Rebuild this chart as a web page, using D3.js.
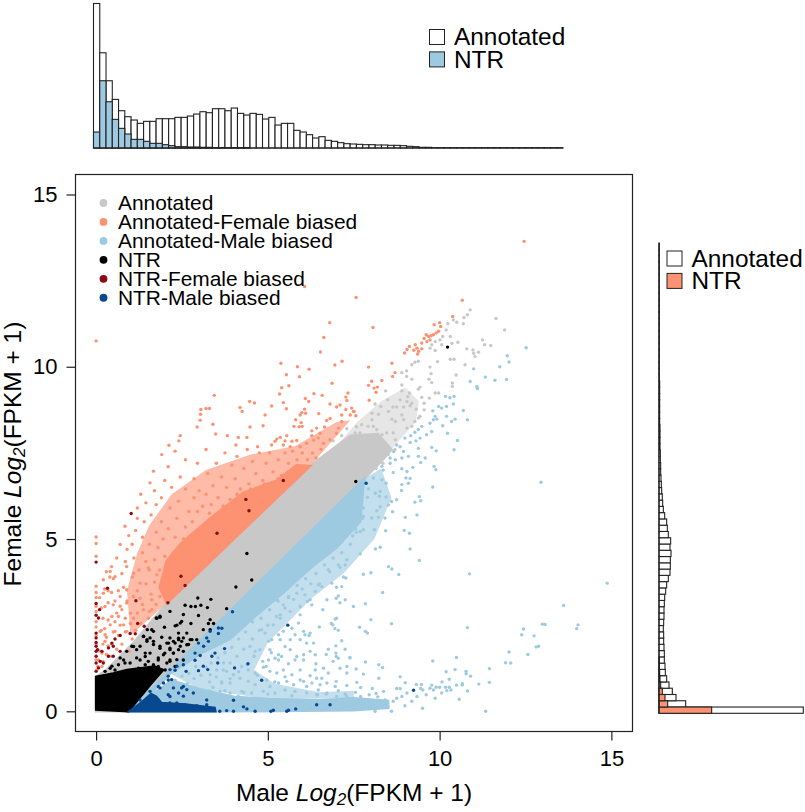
<!DOCTYPE html>
<html><head><meta charset="utf-8">
<script src="https://cdn.jsdelivr.net/npm/d3@7"></script>
<style>html,body{margin:0;background:#fff}svg{display:block}text{font-family:"Liberation Sans",Arial,sans-serif;fill:#000}</style>
</head><body><div id="chart"></div>
<script>
// Histogram heights (arbitrary frequency units); bins share one width over 0-13.6
const topAnnotated=[434,286,202,146,112,94,84,74,80,80,88,88,88,92,92,96,102,109,106,118,118,112,120,104,99,104,101,87,92,69,74,74,53,48,40,30,34,23,20,16,13,12,11,10,10,9,9,8,8,7,5,4,2,2,1,1,1,1,1,1,1,1,1,1,1,1,1,1,1,1,1,1,1,1,1];
const topNTR=[48,202,139,86,59,42,26,26,20,14,14,10,7,4,4,3,3,2,2,1,1,1,1,1,1];
const rightAnnotated=[433,80,51,40,30,23,19,18,16,16,15,14,14,13,14,15,15,16,17,20,23,28,33,34,34,36,33,35,28,25,23,17,13,11,10,8,7,6,5,5,4,4,3,3,3,3,2,2,2,2,2,2,2,1,1,1,1,1,1,1,1,1,1,1,1,1,1,1,1,1,1,1,1,1,1];
const rightNTR=[158,26,18,10,5,3,2,1,1];
const histTop=13.6;
const xTicks=[0,5,10,15], yTicks=[0,5,10,15];
const scatterLegend=["Annotated","Annotated-Female biased","Annotated-Male biased","NTR","NTR-Female biased","NTR-Male biased"];
const histLegend=["Annotated","NTR"];

// Outlines of the areas where the points overlap into solid colour (Male, Female)
const grayCore=[[0,0],[0.94,0],[7.7,6.4],[7.85,6.8],[8.3,7.25],[8.6,7.6],[8.2,8.05],[7.4,8.0],[7,7.7],[6.2,7.1],[2.06,3.14],[1.1,2.0],[0.3,1.2],[0,1]];
const pinkCore=[[2.06,3.14],[1.85,3.6],[2.05,4.35],[2.45,4.85],[3.32,5.6],[4.29,6.35],[5.26,6.7],[5.84,7.15],[6.23,7.12]];
const blueCore=[[0.94,0],[7.8,6.75],[7.69,5.5],[7,4.75],[6.23,4.15],[5.45,3.45],[4.68,2.8],[3.9,2.1],[3.12,1.72],[2.15,1.1],[1.6,0.5]];
const blueStrip=[[1,0],[4,0],[7.5,0.03],[8.5,0.1],[8.5,0.3],[7.5,0.38],[6.5,0.32],[5,0.36],[4,0.42],[3,0.65],[2.2,0.9]];
const blackCore=[[0,0.05],[0,1],[0.5,1.1],[0.9,1.2],[1.3,1.25],[1.7,1.3],[1.95,1.2],[1.6,0.8],[0.94,0]];
const navyCore=[[0.98,0],[1.35,0.28],[1.6,0.5],[1.75,0.42],[1.9,0.24],[2.6,0.2],[3.45,0.1],[3.47,0]];

// Outlines of the areas of thinner, speckled overlap
const pinkHalo=[[1,2.2],[0.9,3.5],[1.2,4.6],[1.55,5.4],[2.2,6.3],[3.2,7],[4.5,7.45],[5.8,7.7],[7,8.4],[7.4,8.45],[6.23,7.12],[2.06,3.14]];
const blueHalo=[[2.15,1.1],[3.12,1.72],[3.9,2.1],[4.68,2.8],[5.45,3.45],[6.23,4.15],[7,4.75],[7.69,5.5],[7.8,6.75],[8.3,7.05],[8.6,6.2],[8.1,5],[7.2,4],[6.3,3.3],[5.5,2.5],[5,2],[4.6,1.2],[5.2,0.8],[6.5,0.55],[7.5,0.6],[7.5,0.38],[5,0.36],[3,0.65]];
const grayHalo=[[7,7.7],[7.6,8.4],[8.3,9],[9,9.4],[9.4,9],[9.3,8.4],[8.6,7.6],[8.2,8.05]];

// Individually visible points (Male, Female)
const grayPts=[[10.89,11.65],[10.81,11.51],[10.71,11.43],[10.69,11.25],[10.4,11.36],[10.5,11.29],[10.24,11.25],[10.19,11.07],[10.09,10.88],[10.01,10.78],[9.87,10.73],[9.77,10.64],[9.72,10.54],[9.87,10.47],[10.06,10.64],[10.31,10.88],[10.36,10.68],[10.53,10.71],[11.64,11.4],[11.89,11.07],[11.25,10.78],[11.31,10.64],[11.49,10.62],[10.79,10.52],[10.97,10.49],[11.13,10.42],[10.99,10.39],[11.03,10.3],[10.31,10.22],[10.42,10.22],[9.94,10.15],[10.74,10.06],[9.38,10.16],[9.28,10.13],[9.19,10.06],[9.72,9.99],[9.04,9.88],[8.9,9.83],[9.75,9.8],[10.48,9.76],[9.04,9.72],[9.19,9.64],[9.69,9.64],[9.77,9.54],[8.9,9.47],[10.37,9.53],[10.37,9.43],[9.43,9.41],[9.38,9.35],[8.43,9.3],[9.12,9.24],[8.9,9.3],[9.87,9.24],[9.97,9.24],[9.07,9.13],[8.85,9.04],[9.48,9.11],[9.7,9.09],[8.49,9.04],[9.05,8.99],[9.19,8.94],[9.55,8.94],[8.12,8.92],[8.29,8.85],[8.64,8.83],[8.75,8.83],[8.95,8.83],[9.32,8.77],[9.55,8.75],[9.14,8.87],[8.03,8.65],[8.22,8.62],[8.51,8.7],[8.9,8.6],[9.43,8.56],[8.03,8.46],[8.61,8.48],[8.71,8.41],[8.95,8.46],[9.38,8.51],[9.28,8.41],[7.73,8.32],[7.92,8.27],[8.07,8.27],[9.05,8.22],[9.19,8.27],[8.17,8.18],[8.46,8.08],[8.65,8.08],[7.54,8.08],[7.68,8.08],[7.88,7.98],[8.12,7.98],[8.32,8.03],[8.71,7.88],[7.73,7.88],[7.98,7.8],[8.41,7.8],[7.83,7.68],[8.51,7.68],[7.49,7.93],[7.58,8.26],[7.3,8.2],[6.9,7.85],[7.15,8.0],[8.7,7.6],[8.5,7.45],[8.35,7.2],[8.15,7.05]];
const pinkPts=[[6.07,12.33],[7.57,12.01],[0,10.75],[6.8,11.28],[6.63,10.85],[6.53,10.43],[5.38,10.1],[5.86,10],[6.2,9.93],[6.95,10.05],[7.16,10.16],[5.54,9.77],[5.92,9.71],[6.87,9.52],[5.4,9.39],[5.61,9.45],[5.34,9.21],[3.44,9.17],[6.34,9.22],[6.58,9.17],[7.33,9.24],[7.27,9.12],[7.3,9.02],[6.09,9.08],[6.19,8.99],[5.45,8.96],[4.47,8.99],[4.61,8.95],[5.11,8.86],[5.54,8.78],[4.19,8.82],[4.25,8.7],[3.05,8.76],[3.2,8.79],[3.3,8.79],[3.04,8.62],[3.03,8.45],[2.94,8.25],[3.4,8.33],[3.48,8.05],[4.92,8.6],[4.48,8.25],[4.86,8.29],[3.82,8],[4.14,7.95],[4.39,7.95],[2.45,8],[2.41,7.85],[2.12,7.72],[4.07,7.73],[4.7,7.68],[5.94,8.6],[5.99,8.67],[6.07,8.77],[6.1,8.65],[6.48,8.64],[6.81,8.92],[7,8.83],[7.1,8.89],[7.27,8.76],[7.44,8.8],[7.49,8.7],[7.4,8.6],[7.56,8.58],[7.15,8.41],[7.15,8.6],[6.81,8.5],[6.71,8.44],[5.81,8.46],[5.76,8.27],[5.97,8.38],[5.91,8.26],[6,8.27],[6.42,8.22],[6.28,8.14],[6.52,8.07],[6.65,8.25],[7.06,8.22],[7,8.07],[5.26,7.9],[5.36,7.95],[5.55,8],[5.5,7.85],[5.11,7.73],[5.21,7.84],[5.7,7.84],[5.84,7.86],[5.94,7.68],[6.13,7.78],[6.28,8],[6.33,7.87],[6.47,7.93],[6.62,7.78],[6.81,7.88],[5.45,7.73],[5.65,7.68],[12.46,13.64],[10.66,11.93],[8.06,11.14],[10.38,11.46],[8.61,10.1],[7.93,9.99],[8.7,9.83],[8.63,9.72],[8.32,9.6],[8.02,9.58],[7.93,9.46],[8.19,9.41],[8.09,9.38],[8.15,9.26],[7.95,9.03],[7.51,8.7],[8.98,10.4],[9.05,10.5],[9.12,10.59],[9.29,10.64],[9.34,10.54],[9.39,10.45],[9.36,10.37],[9.48,10.69],[9.48,10.52],[9.61,10.93],[9.68,10.88],[9.63,10.73],[9.72,10.78],[9.82,10.93],[9.9,10.98],[9.97,11.03],[9.84,11.22],[10,11.28],[10.03,11.17],[9.55,10.82],[9.75,10.9],[9.25,10.48],
[0,5.06],[0,4.87],[0,4.5],[0,3.63],[0,3.45],[0,3.3],[0,3.05],[0,2.9],[0,2.6],[0,2.45],[0,2.2],[0,1.95],[0,1.5],[0.05,1.3],[0.1,3.3],[0.15,3],[0.2,2.7],[0.25,3.55],[0.3,4.05],[0.35,3.5],[0.4,3.9],[0.45,4.2],[0.5,3.85],[0.45,3.45],[0.55,3.2],[0.35,3.15],[0.25,2.4],[0.3,2.15],[0.2,1.95],[0.35,1.9],[0.3,1.65],[0.45,1.95],[0.5,2.3],[0.55,2.6],[0.6,2.85],[0.7,3.05],[0.65,3.5],[0.8,3.6],[0.75,4],[0.85,4.35],[0.9,4.7],[0.6,4.45],[0.7,4.84],[0.84,5.37],[0.95,5.1],[1.05,4.85],[1.15,5.25],[1.2,5.6],[1.1,4.45],[1.25,4.1],[1.35,4.6],[1.05,3.9],[0.9,3.2],[1,2.85],[0.85,2.7],[0.7,2.5],[0.65,2.2],[0.85,2.3],[1,2.55],[1.2,2.85],[1.35,3.1],[1.2,3.5],[1.45,3.7],[1.6,3.4],[1.75,3.1],[1.55,2.9],[1.7,3.75],[1.55,4.1],[1.45,4.35],[1.7,4.4],[1.85,4.1],[1.95,3.7],[1.55,4.85],[1.35,5.05],[1.4,5.5],[1.2,5.9],[1.3,6.3],[1.45,6.05],[1.57,6.63],[1.67,6.97],[1.6,5.7],[1.75,5.2],[1.8,4.75],[2,4.5],[1.95,5],[1.9,5.5],[1.75,6],[1.7,6.4],[1.9,6.2],[2,6.7],[1.91,7.45],[2.3,7.55],[2.1,7.1],[2.2,6.5],[2.15,5.9],[2.1,5.3],[2.3,5.05],[2.35,5.6],[2.4,6.1],[2.45,6.8],[2.6,7.3],[2.6,6.45],[2.7,5.8],[2.6,5.35],[2.8,5.5],[2.85,6.2],[2.85,6.75],[2.95,7.2],[3,6.4],[3.1,5.95],[3.2,7.6],[3.25,6.9],[3.2,6.3],[3.35,6],[3.4,6.55],[3.5,7.2],[3.55,6.2],[3.65,6.8],[3.75,7.5],[3.8,6.5],[3.95,7.15],[3.9,6.15],[4.05,6.75],[4.1,7.4],[4.2,6.45],[4.3,7.05],[4.4,7.6],[4.45,6.6],[4.55,7.25],[4.65,6.9],[4.75,7.5],[4.85,6.7],[4.95,7.2],[5.05,7.5],[5.15,6.95],[5.3,7.3],[5.4,6.85],[5.5,7.5],[5.6,7.2],[5.72,7.55],[5.85,7.3],[6,7.5],[6.15,7.3],[6.3,7.5],[6.4,7.35],[6.55,7.6],[2.25,4.6],[2.55,5],[2.95,5.8],[3.3,5.75],[3.7,5.95],[4.1,6.3],[4.5,6.45],[4.9,6.6],[5.3,6.75],[5.6,6.95],[1.05,2.1],[0.35,2.65],[0.15,2.35],[0.1,1.75],[0.2,1.45],[0.45,1.6],[0.6,1.8],[0.75,1.95],[1.15,2.35],[1.3,2.55],[0.95,1.75],
[0.41,4.06],[0.55,3.91],[0.21,3.82],[0.89,4.2],[1.09,4.01],[1.28,3.72],[1.52,4.16],[1.77,3.96],[2.01,3.62],[0.89,3.53],[0.7,3.33],[0.5,3.09],[0.26,3.04],[0.21,3.43],[0.89,3.14],[1.09,3.33],[1.28,3.28],[1.62,3.24],[1.86,3.33],[0.75,2.95],[0.65,2.75],[0.46,2.75],[0.41,2.51],[0.55,2.32],[0.8,2.51],[1.09,2.7],[0.89,2.32],[0.26,2.22],[0.12,2.32],[0.26,2.03],[0.17,1.69],[0.07,1.49],[0.17,1.3],[0.02,1.2],[1.38,2.95],[1.52,2.7],[1.62,2.95]];
const bluePts=[[12.52,10.55],[11.97,10.32],[12.02,10.14],[11.75,10],[10.99,9.94],[11.33,9.7],[11.61,9.61],[11.95,9.63],[10.89,9.57],[11.08,9.43],[11.1,9.37],[10.17,9.14],[10.3,9.1],[10.42,9.14],[10.4,8.92],[9.97,8.85],[10.06,8.8],[10.2,8.85],[10.69,8.73],[9.8,8.72],[9.87,8.56],[10.2,8.56],[9.72,8.36],[9.82,8.46],[9.92,8.48],[10.81,8.46],[10.45,8.48],[10.35,8.41],[10.09,8.29],[9.48,8.27],[9.38,8.18],[9.28,8.1],[9.62,8.03],[9.77,8.12],[10.23,8.07],[8.99,7.93],[9.16,8],[9.43,7.93],[9.14,7.8],[9.31,7.85],[10.52,7.86],[9.77,7.66],[8.75,7.73],[8.85,7.68],[9.38,7.63],
[12.95,6.65],[14.88,3.72],[13.61,3.07],[10.87,3.99],[12.44,2.39],[12.39,2.22],[12.99,2.53],[13.07,2.52],[14.03,2.51],[13.99,2.4],[12.75,2.19],[12.81,1.87],[12.88,1.89],[12.57,1.65],[12.02,1.72],[11.92,1.41],[12.07,1.4],[11.45,1.24],[11.45,0.84],[11.14,0.79],[10.81,2.43],[10.49,1.56],[9.8,1.46],[10.19,1.15],[10.45,1.21],[10.77,1.16],[10.77,1.09],[10.9,1.02],[10.28,0.93],[10.66,0.8],[10.66,0.76],[10.49,0.76],[10.81,0.59],[10.57,0.35],[11.34,0],[10.07,0.85],[10.17,0.7],[10.28,0.7],[10.33,0.62],[10.21,0.6],[10.06,0.53],[10,0.7],[9.9,0.7],[9.77,0.76],[9.82,0.62],[9.72,0.67],[9.87,0.38],[9.61,0.48],[9.51,0.62],[9.45,0.66],[9.32,0.78],[9.47,0.78],[9,0.83],[8.85,1],[9.34,0.43],[9.19,0.29],[9.5,0.09],[8.99,0.16],[8.75,0.66],[8.85,0.66],[9.05,0.53],[8.9,0.43],[8.75,0.38],[8.65,0.29],[8.6,0],[8.37,0.58],[8.04,0.66],[8.23,0.96],[8.23,1.35],[8.34,1.27],[7.84,1.43],[7.57,1.23],[7.78,1.08],[7.59,0.84],[7.7,0.69],[7.39,1.55],[7.67,2.44],[7.84,2.32],[7.9,2.27],[8,2.66],[8.6,2.54],[7.49,3.04],[7.84,3.12],[8.34,3.45],[7.78,3.98],[8,4.02],[8.51,4.2],[8.61,4.13],[8.81,3.97],[9.41,4.38],[9.14,4.71],[8.13,4.71],[8.27,4.76],[7.69,4.57],[9.12,5.17],[8.97,5.25],[8.43,5.24],[8.1,5.27],[7.78,5.27],[7.69,5.22],[7.57,5.2],[7.47,5.09],[9.34,5.7],[9,5.63],[8.41,5.61],[8.22,5.63],[8.02,5.61],[7.78,5.66],[7.64,5.66],[7.54,5.56],[7.44,5.51],[7.59,5.45],[8.63,5.79],[8.17,5.82],[8.27,5.94],[8.51,5.99],[8.6,6.09],[8.75,6.14],[9.28,6.07],[9.45,6.11],[9.41,6.23],[8.44,6.22],[8.25,6.24],[8.27,6.38],[8.13,6.33],[7.93,6.45],[7.9,6.21],[7.78,5.9],[7.64,5.95],[7.49,6.04],[7.39,5.85],[8.89,6.41],[8.9,6.58],[9.09,6.62],[9.8,6.51],[9.02,6.77],[9.14,6.76],[9.89,7.01],[9.84,7.11],[9.58,7.35],[9.45,7.22],[9.22,7.08],[9.05,6.96],[8.9,7.04],[8.65,6.93],[8.44,6.62],[8.32,6.72],[8.07,6.77],[8.56,7.2],[8.71,7.3],[8.9,7.35],[9.09,7.4],[9.38,7.4],[8.36,7],[8.32,7.11],[8.56,7.35],[8.66,7.54],[8.95,7.54],[9.9,7.56],[10.42,7.59],[7.4,0.29],[7.5,0.38],[7.6,0.24],[7.7,0.43],[7.8,0.14],[7.9,0.33],[8,0.19],[8.1,0.29],[8.12,0],[8.2,0.42],[8.3,0.3],[8.42,0.33],[8.5,0.15],[7.95,0.48],[7.55,0.55],[8.15,0.52],
[7.25,4.25],[7.1,4.18],[6.76,4.11],[6.47,3.67],[6.57,3.62],[6.86,3.72],[7.15,3.62],[7.27,3.87],[6.99,3.28],[6.72,3.24],[7.05,3.35],[7.25,3.24],[6.96,2.68],[6.89,2.51],[7.05,2.35],[6.76,1.8],[6.98,1.9],[6.98,1.69],[6.99,1.59],[7.05,1.54],[7.39,1.56],[7.3,1.3],[7.3,1.11],[6.76,1.11],[6.57,0.96],[6.42,0.96],[6.4,1.38],[6.62,1.25],[6.99,0.87],[6.96,0.72],[6.72,0.82],[6.52,0.77],[6.47,0.62],[6.13,0.72],[5.94,0.91],[6.38,3.48],[6.23,3.24],[6.15,3.19],[6.28,3.09],[5.94,3.04],[5.94,2.8],[5.89,2.56],[5.65,2.9],[5.36,2.8],[5.45,3.09],[5.26,3.24],[5.6,3.33],[5.84,3.43],[6.08,3.38],[5.16,2.51],[5.36,2.7],[4.82,2.37],[4.92,2.27],[5.02,2.03],[5.31,2.22],[5.45,2.32],[5.7,2.41],[5.79,2.22],[6.04,2.32],[6.08,2.22],[6.23,2.27],[5.94,2.08],[5.65,2.08],[5.5,1.88],[5.36,2.08],[5.11,2.08],[4.48,1.88],[4.63,1.74],[4.77,1.79],[5.06,1.79],[5.31,1.64],[5.4,1.59],[5.65,1.79],[5.84,1.59],[6.04,1.64],[6.23,1.74],[6.38,1.64],[6.33,1.98],[6.13,1.98],[5.21,1.54],[5.02,1.49],[4.85,1.45],[4.87,1.28],[5.06,1.16],[5.31,1.49],[5.6,1.38],[5.79,1.49],[6.04,1.49],[6.38,1.2],[6.23,1.03],[5.94,1.2],[5.7,1.06],[5.45,1.2],[5.26,1.11],[4.97,0.91],[4.63,1.11],[4.43,1.2],[4.24,1.3],[4,1.06],[3.8,1.16],[3.71,1.4],[3.51,1.2],[3.32,1.06],[3.66,0.82],[3.9,0.82],[4.19,0.96],[4.43,0.87],[4.63,0.77],[5.06,0.72],[5.31,0.82],[5.55,0.87],[5.75,0.77],[6.04,0.87],[6.28,0.82],[4.24,0.58],[4.53,0.53],[4.87,0.58],[5.21,0.53],[5.5,0.62],[5.79,0.58],[6.13,0.53],[6.42,0.48],[6.72,0.53],[7,0.43],[7.3,0.43],[3.61,0.58],[3.32,0.58],[3.9,0.53],[4.14,0.43],[3.42,0.38],
[2.3,0.9],[2.5,1.02],[2.7,1.1],[2.9,1.3],[2.65,0.8],[2.85,0.95],[3.05,1.05],[3.2,1.28],[3.35,1.4],[3.55,1.55],[3.75,1.7],[3.95,1.85],[4.15,2.1],[4.35,2.3],[4.55,2.6],[4.8,2.7],[5.05,2.95],[5.3,3.2],[5.6,3.3],[5.85,3.65],[6.1,3.85],[6.4,4],[6.65,4.25],[6.9,4.45],[7.15,4.6],[7.4,4.85],[3.3,0.85],[3.5,1],[3.7,1.2],[3.9,1.4],[4.1,1.6],[4.3,1.8],[4.55,2.1],[4.75,2.35],[5,2.5],[5.25,2.75],[5.5,3],[5.75,3.25],[6,3.55],[6.25,3.7],[6.5,3.7],[6.8,4.05],[7.05,4.25],[7.3,4.4],[7,3.6],[7.2,3.9],[3.15,0.6],[3.4,0.7],[3.65,0.85],[3.9,0.95],[4.15,1.15],[4.4,1.35],[4.6,1.6],[4.7,1.05],[4.95,1.3],[5.2,0.85],[5.5,1],[6.7,1.65],[6.95,2.4],[6.85,2.55],[7,2.7],[7.15,2.05],[7.25,1.8],[7.1,1.25],[7.3,0.75],[7.05,0.6],[6.7,0.5],[5,0.5],[5.7,0.45],[6.45,0.48],[7.25,0.5],[4.3,0.55],[3.75,0.6],[7.1,3.15],[6.6,2.95],[6.2,2.2],[6.5,2.45],[5.1,1.7],[6.9,1.45],[3.85,2.3],[4.05,2.5],[4.2,2.7],[4.5,3],[4.75,3.15],[5,3.35],[5.25,3.5],[5.55,3.75],[5.8,3.95],[6.1,4.25],[6.4,4.45],[6.7,4.7],[7,4.95],[7.25,5.15],[7.55,5.3],[7.75,5.6]];
const blackPts=[[10.23,10.57],[7.56,6.67],[4.39,4.58],[4.53,3.81],[4.07,3.61],[3.8,2.98],[2.96,3.29],[3.34,3.25],[2.59,3.08],[2.76,3.04],[2.89,3.04],[3.05,3.08],[3.24,3.01],[2.15,2.9],[2.54,2.81],[2.98,2.78],[1.75,2.71],[1.86,2.76],[2.49,2.61],[2.35,2.5],[2.76,2.55],[3.32,2.66],[3.42,2.55],[3.27,2.55],[1.49,2.37],[1.67,2.32],[1.99,2.44],[2.4,2.27],[2.64,2.27],[3.12,2.37],[3.32,2.37],[1.38,2.18],[1.57,2.13],[1.91,2.15],[2.15,2.13],[2.54,2.13],[2.79,2.08],[2.93,2.08],[1.04,1.89],[1.28,1.89],[1.48,2.03],[1.67,1.94],[2.06,1.98],[2.25,2.03],[2.4,2.08],[2.69,1.94],[0.89,1.74],[1.18,1.55],[1.43,1.69],[1.86,1.89],[2.15,1.79],[2.45,1.89],[0.7,1.55],[0.84,1.4],[2,1.69],[2.25,1.69],[2.54,1.74],[1.81,1.55],[2.35,1.5],[2.15,1.45],[0.46,1.31],[0.26,1.16],
[1.28,1.49],[1.43,1.59],[1.57,1.69],[1.81,1.49],[1.96,1.64],[2.15,1.83],[2.3,1.98],[2.4,2.12],[2.49,2.03],[2.64,1.93],[2.74,2.08],[2.11,1.98],[2.45,2.56],[2.3,2.48],[1.77,2.7],[1.86,2.73],[1.62,2.37],[1.38,2.17],[1.48,2.08],[1.67,2.03],[1.09,1.88],[0.8,1.49],[0.99,1.4],[0.65,1.35],[0.55,1.2],[0.41,1.25],[1.18,1.79],[2.54,1.49],[2.3,1.3],[2.06,1.4],[1.81,1.3],[1.67,1.35],[1.52,1.45],[2.25,1.69],[2.4,1.79],[1.86,1.83],[2.01,1.2],[2.15,1.49],[1.23,1.25],[1.43,1.35]];
const redPts=[[5.45,6.7],[4.36,6.15],[4.45,5.82],[3.52,5.17],[2.47,3.92],[2.59,3.65],[2.09,3.15],[1.02,5.74],[0,4.33],[0.33,3.57],[1.16,3.21],[0,3.13],[0.1,2.95],[0,2.79],[0.07,2.71],[1.21,2.55],[1.4,2.47],[0.99,2.26],[1.14,2.25],[0.7,2.2],[0.55,2.1],[0.46,1.98],[0.5,1.89],[0.36,1.84],[0,2.27],[0,2.13],[0,1.89],[0.04,1.79],[0.17,1.74],[0,1.6],[0.12,1.45],[0.21,1.4],[0,1.16],[0.07,1.26],[0.36,1.6],[0.5,1.6],[0.7,1.74],[0,2],[0,1.74],[0,1.4]];
const navyPts=[[3.97,2.89],[5.58,2.5],[3.56,2.42],[3.66,2.41],[3.32,2.32],[3.56,2.26],[3.22,2.13],[3.27,2.03],[2.98,1.98],[3.13,1.89],[3.74,1.82],[2.88,1.69],[3.03,1.62],[2.88,1.48],[3.46,1.69],[3.37,1.6],[3.54,1.4],[4.42,1.38],[2.54,1.35],[3.12,1.31],[2.98,1.18],[3.25,1.21],[4.03,1.26],[2.62,1.16],[2.35,1.31],[2.3,1.19],[2.15,1.21],[4.82,0.9],[2.2,0.92],[2.1,1.02],[1.96,0.82],[1.86,0.68],[2.25,0.68],[2.49,0.68],[2.64,0.63],[2.4,0.53],[2.1,0.48],[2.54,0.44],[4,0.32],[6.42,0.19],[6.81,0.19],[5.81,0.07],[5.6,0.03],[5.55,0],[5.16,0.03],[5.09,0],[4.63,0],[4.29,0.13],[4.39,0.07],[4,0],[3.6,0],[3.8,0.02],[3.22,0.19],[2.93,0.16],[2.59,0.19],[2.15,0.24],[1.67,0.39],[1.47,0.29],[9.24,0.61],[7.86,6.62],[2.1,0.91],[1.81,0.72],[1.57,0.58],[1.28,0.33],[1.81,0.33],[2.15,0.43],[2.35,0.24],[2.54,0.72],[2.83,0.53],[3.22,0.33]];

const gray="#c8c8c8",pink="#fc9272",blue="#9ecae1",red="#8b0a14",navy="#08488f",black="#000";
const W=805,H=812,box={l:75.5,r:632.5,t:174.5,b:731.5};
const svg=d3.select("#chart").append("svg").attr("width",W).attr("height",H);
const x=d3.scaleLinear().domain([-0.6,15.615]).range([box.l,box.r]);
const y=d3.scaleLinear().domain([-0.586,15.58]).range([box.b,box.t]);
const line=d3.line().x(d=>x(d[0])).y(d=>y(d[1])).curve(d3.curveLinearClosed);

// Top histogram
const hx=d3.scaleLinear().domain([0,histTop]).range([93.5,563]);
const hy=d3.scaleLinear().domain([0,434]).range([148,3.5]);
const bw=histTop/topAnnotated.length;
function topBars(vals,fill){svg.append("g").selectAll("rect").data(vals).join("rect")
 .attr("x",(d,i)=>hx(i*bw)).attr("width",hx(bw)-hx(0)).attr("y",d=>hy(d)).attr("height",d=>hy(0)-hy(d))
 .attr("fill",fill).attr("stroke","#222").attr("stroke-width",1.1);}
topBars(topAnnotated,"#fff");topBars(topNTR,blue);
svg.append("line").attr("x1",hx(0)).attr("x2",hx(histTop)).attr("y1",hy(0)).attr("y2",hy(0)).attr("stroke","#222").attr("stroke-width",1.2);

// Right histogram
const ry=d3.scaleLinear().domain([0,histTop]).range([713.3,243]);
const rx=d3.scaleLinear().domain([0,433]).range([659,803.3]);
function rightBars(vals,fill){svg.append("g").selectAll("rect").data(vals).join("rect")
 .attr("y",(d,i)=>ry((i+1)*bw)).attr("height",ry(0)-ry(bw)).attr("x",rx(0)).attr("width",d=>rx(d)-rx(0))
 .attr("fill",fill).attr("stroke","#222").attr("stroke-width",1.1);}
rightBars(rightAnnotated,"#fff");rightBars(rightNTR,pink);
svg.append("line").attr("x1",rx(0)).attr("x2",rx(0)).attr("y1",ry(0)).attr("y2",ry(histTop)).attr("stroke","#222").attr("stroke-width",1.2);

function histKey(lx,ly,tx,fill2){histLegend.forEach((t,i)=>{
 const dy=i*22.4;
 svg.append("rect").attr("x",lx).attr("y",ly+dy).attr("width",15).attr("height",15).attr("fill",i?fill2:"#fff").attr("stroke","#222").attr("stroke-width",1);
 svg.append("text").attr("x",tx).attr("y",ly+dy+15.8).attr("font-size",24.4).text(t);});}
histKey(429.5,29.5,454,blue);histKey(667,251,691.5,pink);

// Scatter: solid cores first, then the individual points
const core=(pts,c)=>svg.append("path").attr("d",line(pts)).attr("fill",c).attr("stroke",c).attr("stroke-width",2.5);
const halo=(pts,c,o)=>svg.append("path").attr("d",line(pts)).attr("fill",c).attr("fill-opacity",o);
halo(pinkHalo,pink,0.62);halo(blueHalo,blue,0.62);halo(grayHalo,gray,0.45);
core(grayCore,gray);core(pinkCore,pink);core(blueCore,blue);core(blueStrip,blue);
const dots=(pts,c)=>svg.append("g").attr("fill",c).selectAll("circle").data(pts).join("circle")
 .attr("cx",d=>x(d[0])).attr("cy",d=>y(d[1])).attr("r",1.7);
dots(grayPts,gray);dots(pinkPts,pink);dots(bluePts,blue);
core(blackCore,black);core(navyCore,navy);
dots(blackPts,black);dots(redPts,red);dots(navyPts,navy);

// Frame and axes
svg.append("rect").attr("x",box.l).attr("y",box.t).attr("width",box.r-box.l).attr("height",box.b-box.t).attr("fill","none").attr("stroke","#222").attr("stroke-width",1.2);
const ax=svg.append("g").attr("transform",`translate(0,${box.b})`).call(d3.axisBottom(x).tickValues(xTicks).tickSize(9).tickPadding(9.5));
const ay=svg.append("g").attr("transform",`translate(${box.l},0)`).call(d3.axisLeft(y).tickValues(yTicks).tickSize(9).tickPadding(9));
[ax,ay].forEach(a=>{a.select(".domain").remove();a.selectAll("line").attr("stroke","#222").attr("stroke-width",1.2);a.selectAll("text").attr("font-size",22).attr("font-family",null).attr("fill","#000");});
function axisTitle(sel,first){sel.attr("font-size",24.5).attr("text-anchor","middle");
 sel.append("tspan").text(first+" ");sel.append("tspan").attr("font-style","italic").text("Log");
 sel.append("tspan").attr("font-size",17).attr("font-style","italic").attr("dy",4).text("2");
 sel.append("tspan").attr("dy",-4).text("(FPKM + 1)");}
svg.append("text").attr("x",354).attr("y",801).call(axisTitle,"Male");
svg.append("text").attr("transform","translate(20.7,454) rotate(-90)").call(axisTitle,"Female");

// Scatter legend
const legendColors=[gray,pink,blue,black,red,navy];
scatterLegend.forEach((t,i)=>{const ly=203+i*18.95;
 svg.append("circle").attr("cx",103.5).attr("cy",ly).attr("r",3.9).attr("fill",legendColors[i]);
 svg.append("text").attr("x",118).attr("y",ly+7).attr("font-size",20.9).text(t);});
</script></body></html>
